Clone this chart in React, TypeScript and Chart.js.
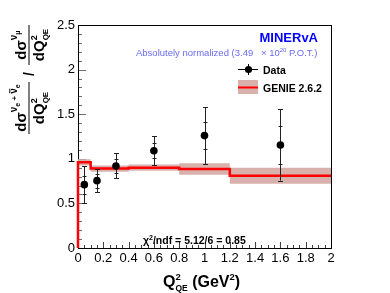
import React, { useEffect, useRef } from 'react';
import { Chart, registerables } from 'chart.js';

Chart.register(...registerables);

// ---- data ----
const binEdges = [0, 0.1, 0.2, 0.4, 0.8, 1.2, 2.0];
const genieValues = [0.96, 0.89, 0.89, 0.90, 0.885, 0.81];
const genieBandHalf = [0.035, 0.035, 0.035, 0.035, 0.065, 0.09];
const dataQ2 = [0.05, 0.15, 0.3, 0.6, 1.0, 1.6];
const dataRatio = [0.71, 0.755, 0.92, 1.09, 1.26, 1.155];
const totalErr = [0.205, 0.13, 0.14, 0.165, 0.32, 0.40];
const statErr = [0.10, 0.08, 0.075, 0.085, 0.155, 0.215];
const xTicks = [0, 0.2, 0.4, 0.6, 0.8, 1, 1.2, 1.4, 1.6, 1.8, 2];
const yTicks = [0, 0.5, 1, 1.5, 2, 2.5];

const FONT = '"Liberation Sans", Arial, Helvetica, sans-serif';
const BAND = '#d8b0ac';

type Run = { t: string; size: number; dy?: number; bold?: boolean; adv?: boolean; bar?: boolean };

function font(size: number, bold?: boolean) {
  return `${bold ? 'bold ' : ''}${size}px ${FONT}`;
}

function runsWidth(ctx: CanvasRenderingContext2D, runs: Run[]) {
  let w = 0;
  for (const r of runs) {
    ctx.font = font(r.size, r.bold);
    if (r.adv !== false) w += ctx.measureText(r.t).width;
  }
  return w;
}

function drawRuns(ctx: CanvasRenderingContext2D, runs: Run[], x: number, y: number) {
  let cx = x;
  ctx.textAlign = 'left';
  ctx.textBaseline = 'alphabetic';
  for (const r of runs) {
    ctx.font = font(r.size, r.bold);
    const w = ctx.measureText(r.t).width;
    const yy = y + (r.dy || 0);
    ctx.fillText(r.t, cx, yy);
    if (r.bar) {
      ctx.save();
      ctx.lineWidth = 1;
      ctx.strokeStyle = ctx.fillStyle as string;
      ctx.beginPath();
      ctx.moveTo(cx + 0.5, yy - r.size * 0.72);
      ctx.lineTo(cx + w - 0.5, yy - r.size * 0.72);
      ctx.stroke();
      ctx.restore();
    }
    if (r.adv !== false) cx += w;
  }
  return cx;
}

function drawCentered(ctx: CanvasRenderingContext2D, runs: Run[], cx: number, y: number) {
  const w = runsWidth(ctx, runs);
  drawRuns(ctx, runs, cx - w / 2, y);
}

const denomRuns: Run[] = [
  { t: 'dQ', size: 15, bold: true },
  { t: '2', size: 9, bold: true, dy: -7, adv: false },
  { t: 'QE', size: 8, bold: true, dy: 4 },
];
const num1Runs: Run[] = [
  { t: 'dσ', size: 15, bold: true },
  { t: 'ν', size: 10, bold: true, dy: -9 },
  { t: 'e', size: 7, bold: true, dy: -6 },
  { t: ' + ', size: 8, bold: true, dy: -9 },
  { t: 'ν', size: 10, bold: true, dy: -9, bar: true },
  { t: 'e', size: 7, bold: true, dy: -6 },
];
const num2Runs: Run[] = [
  { t: 'dσ', size: 15, bold: true },
  { t: 'ν', size: 10, bold: true, dy: -9 },
  { t: 'μ', size: 7, bold: true, dy: -6 },
];

const decor = {
  id: 'decor',
  beforeDatasetsDraw(chart: any) {
    const { ctx, chartArea: a, scales } = chart;
    const x = scales.x, y = scales.y;
    ctx.save();
    // ticks
    ctx.lineWidth = 1;
    ctx.strokeStyle = '#707070';
    for (let i = 0; i <= 25; i++) {
      const py = Math.round(y.getPixelForValue(i * 0.1)) + 0.5;
      const len = i % 5 === 0 ? 8 : 4;
      ctx.beginPath();
      ctx.moveTo(a.left, py);
      ctx.lineTo(a.left + len, py);
      ctx.stroke();
    }
    ctx.strokeStyle = '#404040';
    for (let i = 0; i <= 40; i++) {
      const px = Math.round(x.getPixelForValue(i * 0.05)) + 0.5;
      const len = i % 4 === 0 ? 6 : 3;
      ctx.beginPath();
      ctx.moveTo(px, a.bottom);
      ctx.lineTo(px, a.bottom - len);
      ctx.stroke();
    }
    // frame
    ctx.strokeStyle = '#000';
    ctx.lineWidth = 1;
    ctx.strokeRect(Math.round(a.left) + 0.5, Math.round(a.top) + 0.5, Math.round(a.right - a.left), Math.round(a.bottom - a.top));
    ctx.restore();
  },
  beforeDatasetDraw(chart: any, args: any) {
    if (args.index !== 0) return;
    const { ctx, scales } = chart;
    const x = scales.x, y = scales.y;
    ctx.save();
    ctx.strokeStyle = '#222';
    ctx.lineWidth = 1;
    for (let i = 0; i < dataQ2.length; i++) {
      const px = Math.round(x.getPixelForValue(dataQ2[i])) + 0.5;
      const t1 = y.getPixelForValue(dataRatio[i] + totalErr[i]);
      const t2 = y.getPixelForValue(dataRatio[i] - totalErr[i]);
      const s1 = y.getPixelForValue(dataRatio[i] + statErr[i]);
      const s2 = y.getPixelForValue(dataRatio[i] - statErr[i]);
      ctx.beginPath();
      ctx.moveTo(px, t1);
      ctx.lineTo(px, t2);
      for (const yy of [t1, t2]) {
        ctx.moveTo(px - 2.5, Math.round(yy) + 0.5);
        ctx.lineTo(px + 2.5, Math.round(yy) + 0.5);
      }
      for (const yy of [s1, s2]) {
        ctx.moveTo(px - 2, Math.round(yy) + 0.5);
        ctx.lineTo(px + 2, Math.round(yy) + 0.5);
      }
      ctx.stroke();
    }
    ctx.restore();
  },
  afterDraw(chart: any) {
    const { ctx } = chart;
    ctx.save();
    // MINERvA label
    ctx.fillStyle = '#0000ff';
    ctx.font = font(13, true);
    ctx.textAlign = 'right';
    ctx.fillText('MINERvA', 318, 42);
    // normalization text
    ctx.fillStyle = '#6a6af0';
    drawRuns(ctx, [{ t: 'Absolutely normalized (3.49', size: 9.5 }], 136, 56);
    drawRuns(ctx, [
      { t: '× 10', size: 9.5 },
      { t: '20', size: 6, dy: -4 },
      { t: ' P.O.T.)', size: 9.5 },
    ], 261, 56);
    // legend: Data
    ctx.fillStyle = '#000';
    ctx.strokeStyle = '#000';
    ctx.lineWidth = 1;
    ctx.beginPath();
    ctx.moveTo(238, 69.5);
    ctx.lineTo(258, 69.5);
    ctx.moveTo(248.5, 64);
    ctx.lineTo(248.5, 75);
    ctx.stroke();
    ctx.beginPath();
    ctx.arc(248.5, 69.5, 3.6, 0, Math.PI * 2);
    ctx.fill();
    drawRuns(ctx, [{ t: 'Data', size: 10.5, bold: true }], 263, 73.5);
    // legend: GENIE
    ctx.fillStyle = BAND;
    ctx.fillRect(238, 80, 20, 14);
    ctx.strokeStyle = '#ff0000';
    ctx.lineWidth = 2;
    ctx.beginPath();
    ctx.moveTo(238, 87.5);
    ctx.lineTo(258, 87.5);
    ctx.stroke();
    ctx.fillStyle = '#000';
    drawRuns(ctx, [{ t: 'GENIE 2.6.2', size: 10.5, bold: true }], 263, 92);
    // chi2
    drawRuns(ctx, [
      { t: 'χ', size: 10.5, bold: true },
      { t: '2', size: 7, bold: true, dy: -4 },
      { t: '/ndf = 5.12/6 = 0.85', size: 10.5, bold: true },
    ], 143, 243.5);
    // x title
    drawRuns(ctx, [
      { t: 'Q', size: 16, bold: true },
      { t: '2', size: 9.5, bold: true, dy: -7, adv: false },
      { t: 'QE', size: 8.5, bold: true, dy: 4 },
      { t: ' (GeV', size: 16, bold: true },
      { t: '2', size: 9.5, bold: true, dy: -7 },
      { t: ')', size: 16, bold: true },
    ], 163, 287);
    // y title (rotated)
    ctx.translate(29, 135);
    ctx.rotate(-Math.PI / 2);
    ctx.fillStyle = '#000';
    ctx.strokeStyle = '#000';
    ctx.lineWidth = 1;
    ctx.beginPath();
    ctx.moveTo(1, 0);
    ctx.lineTo(53, 0);
    ctx.moveTo(70, 0);
    ctx.lineTo(110, 0);
    ctx.stroke();
    drawCentered(ctx, num1Runs, 27, -3);
    drawCentered(ctx, denomRuns, 27, 15);
    drawCentered(ctx, [{ t: '/', size: 14, bold: true }], 61, 5);
    drawCentered(ctx, num2Runs, 90, -3);
    drawCentered(ctx, denomRuns, 90, 15);
    ctx.restore();
  },
};

export default function App() {
  const ref = useRef<HTMLCanvasElement>(null);
  useEffect(() => {
    document.body.style.margin = '0';
    const nb = genieValues.length;
    const genieLine = [{ x: binEdges[0], y: 0 }]
      .concat(genieValues.map((v, i) => ({ x: binEdges[i], y: v })))
      .concat([{ x: binEdges[nb], y: genieValues[nb - 1] }]);
    const bandHi = genieValues.map((v, i) => ({ x: binEdges[i], y: v + genieBandHalf[i] }))
      .concat([{ x: binEdges[nb], y: genieValues[nb - 1] + genieBandHalf[nb - 1] }]);
    const bandLo = genieValues.map((v, i) => ({ x: binEdges[i], y: v - genieBandHalf[i] }))
      .concat([{ x: binEdges[nb], y: genieValues[nb - 1] - genieBandHalf[nb - 1] }]);

    const tickFont = { family: FONT, size: 13 };
    const chart = new Chart(ref.current as HTMLCanvasElement, {
      type: 'scatter',
      data: {
        datasets: [
          {
            label: 'Data',
            data: dataQ2.map((q, i) => ({ x: q, y: dataRatio[i] })),
            pointRadius: 3.8,
            pointBackgroundColor: '#000',
            pointBorderColor: '#000',
            pointBorderWidth: 0,
            showLine: false,
          },
          {
            label: 'GENIE 2.6.2',
            data: genieLine,
            showLine: true,
            stepped: true,
            borderColor: '#ff0000',
            borderWidth: 2.5,
            pointRadius: 0,
            fill: false,
            clip: 4,
          },
          {
            label: 'band hi',
            data: bandHi,
            showLine: true,
            stepped: true,
            borderColor: 'rgba(0,0,0,0)',
            borderWidth: 0,
            pointRadius: 0,
            backgroundColor: BAND,
            fill: '+1',
          },
          {
            label: 'band lo',
            data: bandLo,
            showLine: true,
            stepped: true,
            borderColor: 'rgba(0,0,0,0)',
            borderWidth: 0,
            pointRadius: 0,
            fill: false,
          },
        ] as any,
      },
      options: {
        animation: false,
        responsive: false,
        events: [],
        layout: { padding: { top: 25, right: 59, left: 0, bottom: 0 } },
        plugins: { legend: { display: false }, tooltip: { enabled: false } },
        scales: {
          x: {
            type: 'linear',
            min: 0,
            max: 2,
            afterBuildTicks: (s: any) => { s.ticks = xTicks.map((v) => ({ value: v })); },
            afterFit: (s: any) => { s.height = 45; },
            grid: { display: false, drawTicks: false },
            border: { display: false },
            ticks: { color: '#000', font: tickFont, padding: 3, maxRotation: 0, autoSkip: false, callback: (v: any) => String(v) },
          },
          y: {
            type: 'linear',
            min: 0,
            max: 2.5,
            afterBuildTicks: (s: any) => { s.ticks = yTicks.map((v) => ({ value: v })); },
            afterFit: (s: any) => { s.width = 78; },
            grid: { display: false, drawTicks: false },
            border: { display: false },
            ticks: { color: '#000', font: tickFont, padding: 3, autoSkip: false, callback: (v: any) => String(v) },
          },
        },
      } as any,
      plugins: [decor],
    });
    return () => chart.destroy();
  }, []);
  return (
    <div style={{ position: 'fixed', left: 0, top: 0, width: 390, height: 293, background: '#fff' }}>
      <canvas ref={ref} width={390} height={293} style={{ display: 'block', width: 390, height: 293 }} />
    </div>
  );
}
